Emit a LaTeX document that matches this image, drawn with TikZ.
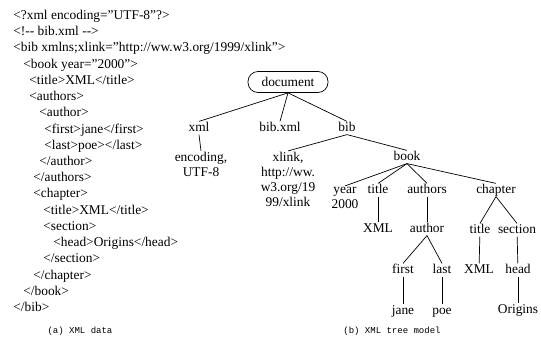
\documentclass[tikz,border=0pt]{standalone}
\usepackage{fontspec}
\setmainfont{Liberation Serif}
\newfontfamily\capfont{Liberation Mono}
\begin{document}
\begin{tikzpicture}[x=1pt,y=-1pt,line width=0.7pt,
    src/.style={anchor=base west,inner sep=0pt,font=\fontsize{13.4}{15}\selectfont},
    tn/.style={inner sep=0.5pt,font=\fontsize{13.4}{15}\selectfont,text height=9pt,text depth=2.5pt},
    mn/.style={inner sep=0.5pt,font=\fontsize{13.4}{15}\selectfont,align=center},
    root/.style={draw,rounded corners=10pt,minimum width=80pt,minimum height=21pt,inner sep=0pt,font=\fontsize{13.4}{15}\selectfont},
    captext/.style={inner sep=0pt,font=\capfont\fontsize{9}{10}\selectfont}]
    \useasboundingbox (0,0) rectangle (541,338);
        % xml source
        \node[src] (l1) at (13, 19.5) {<?xml encoding=”UTF-8”?>};
        \node[src] (l2) at (13, 35.7) {<!-{}- bib.xml -{}->};
        \node[src] (l3) at (13, 51.9) {<bib xmlns;xlink=”http://ww.w3.org/1999/xlink”>};
        \node[src] (l4) at (23, 68.2) {<book year=”2000”>};
        \node[src] (l5) at (29, 84.4) {<title>XML</title>};
        \node[src] (l6) at (29, 100.6) {<authors>};
        \node[src] (l7) at (39, 116.8) {<author>};
        \node[src] (l8) at (44, 133.0) {<first>jane</first>};
        \node[src] (l9) at (44, 149.3) {<last>poe></last>};
        \node[src] (l10) at (39, 165.5) {</author>};
        \node[src] (l11) at (33, 181.7) {</authors>};
        \node[src] (l12) at (33, 197.9) {<chapter>};
        \node[src] (l13) at (43, 214.1) {<title>XML</title>};
        \node[src] (l14) at (43, 230.4) {<section>};
        \node[src] (l15) at (53, 246.6) {<head>Origins</head>};
        \node[src] (l16) at (43, 262.8) {</section>};
        \node[src] (l17) at (33, 279.0) {</chapter>};
        \node[src] (l18) at (23, 295.2) {</book>};
        \node[src] (l19) at (13, 311.5) {</bib>};
        % tree
        \node[root] (doc) at (288, 82) {document};
        \node[tn] (xml) at (199, 128) {xml};
        \node[tn] (bibxml) at (280, 128) {bib.xml};
        \node[tn] (bib) at (347, 128) {bib};
        \node[mn] (enc) at (201, 164) {encoding,\\UTF-8};
        \node[mn] (xlink) at (288, 179) {xlink,\\http://ww.\\w3.org/19\\99/xlink};
        \node[tn] (book) at (407, 157) {book};
        \node[mn] (year) at (345, 197.5) {year\\2000};
        \node[tn] (title) at (378, 190) {title};
        \node[tn] (authors) at (427, 190) {authors};
        \node[tn] (chapter) at (496, 190) {chapter};
        \node[tn] (xmla) at (378, 229) {XML};
        \node[tn] (author) at (427, 229) {author};
        \node[tn] (ctitle) at (480, 230) {title};
        \node[tn] (section) at (517, 230) {section};
        \node[tn] (first) at (403, 270) {first};
        \node[tn] (last) at (442, 270) {last};
        \node[tn] (xmlb) at (479, 270) {XML};
        \node[tn] (head) at (518, 270) {head};
        \node[tn] (jane) at (403, 311) {jane};
        \node[tn] (poe) at (442, 311) {poe};
        \node[tn] (origins) at (518, 310) {Origins};
        \node[captext] (capa) at (80, 331) {(a) XML data};
        \node[captext] (capb) at (392, 331) {(b) XML tree model};
        \draw (doc.south) -- (xml.north);
        \draw (doc.south) -- (bibxml.north);
        \draw (doc.south) -- (bib.north);
        \draw (xml.south) -- (enc.north);
        \draw (bib.south) -- (xlink.north);
        \draw (bib.south) -- (book.north);
        \draw (book.south) -- (year.north);
        \draw (book.south) -- (title.north);
        \draw (book.south) -- (authors.north);
        \draw (book.south) -- (chapter.north);
        \draw (title) -- (xmla);
        \draw (authors) -- (author);
        \draw (author.south) -- (first.north);
        \draw (author.south) -- (last.north);
        \draw (first) -- (jane);
        \draw (last) -- (poe);
        \draw (chapter.south) -- (ctitle.north);
        \draw (chapter.south) -- (section.north);
        \draw (ctitle) -- (xmlb);
        \draw (section) -- (head);
        \draw (head) -- (origins);
\end{tikzpicture}
\end{document}
